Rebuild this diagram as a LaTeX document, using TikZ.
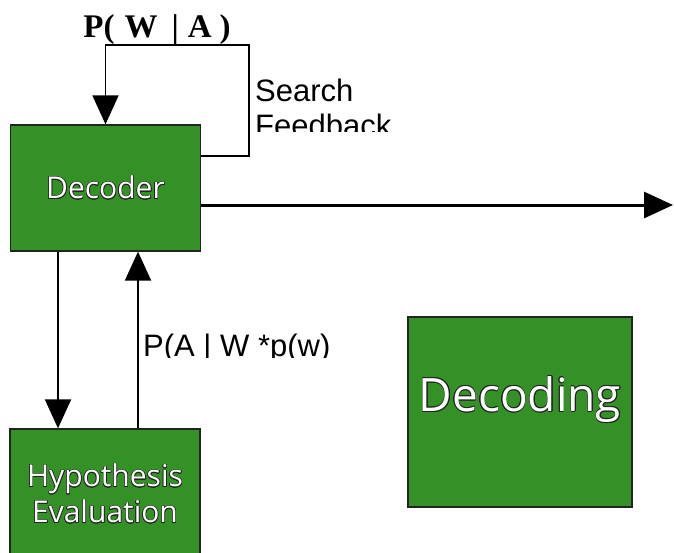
\documentclass[tikz,border=0pt]{standalone}
\usepackage{fontspec}
\setmainfont{Liberation Sans}
\newfontfamily\boxfont{Open Sans}
\newfontfamily\titlefont{Liberation Serif}
\usepackage[copies]{contour}
\contourlength{0.6pt}
\usetikzlibrary{arrows.meta,positioning}
\definecolor{boxgreen}{RGB}{52,145,38}
\definecolor{edgegray}{RGB}{35,35,35}

\tikzset{
    greenbox/.style={draw=edgegray, line width=1.3pt, fill=boxgreen, text=white,
        font=\boxfont\fontsize{30pt}{36pt}\selectfont, align=center, inner sep=0pt},
    flowline/.style={line width=2pt, -{Triangle[length=29pt,width=26pt]}},
    loopline/.style={line width=1.6pt, -{Triangle[length=29pt,width=26pt]}},
    labeltext/.style={inner sep=0pt, align=left, font=\fontsize{31pt}{35pt}\selectfont}
}

\begin{document}
\begin{tikzpicture}[x=1pt,y=-1pt]
            \useasboundingbox (0,0) rectangle (674,552);
            \clip (0,0) rectangle (674,552);
        % boxes
            \node[greenbox, minimum width=190pt, minimum height=126pt] (decoder) at (105.5,188)
                {\contour{edgegray}{Decoder}};
            \node[greenbox, minimum width=190pt, minimum height=130pt] (hypothesis) at (105,494)
                {\contour{edgegray}{Hypothesis}\\\contour{edgegray}{Evaluation}};
            \node[greenbox, minimum width=224pt, minimum height=190pt, text depth=36pt,
                  font=\boxfont\fontsize{46pt}{50pt}\selectfont] (decoding) at (520,412)
                {\contour{edgegray}{Decoding}};
        % search feedback loop
            \coordinate (loopcorner) at (249,45);
            \draw[loopline] ([yshift=-31.7pt]decoder.north east) -| (loopcorner) -| (decoder.north);
            \node[anchor=base, inner sep=0pt, font=\titlefont\bfseries\fontsize{33pt}{36pt}\selectfont]
                (posterior) at (157,37) {P(\hspace{10pt}W\hspace{14pt}|\hspace{9pt}A\hspace{8pt})};
            \begin{scope}
                \clip (250,50) rectangle (420,131.7);
                \node[labeltext, anchor=north west] (feedback) at (255,79) {Search\\Feedback};
            \end{scope}
        % decoder output
            \coordinate (output) at (673,205);
            \draw[flowline, line width=3pt] ([yshift=-17pt]decoder.east) -- (output);
        % decoder <-> hypothesis evaluation
            \draw[flowline] ([xshift=-47.5pt]decoder.south) -- ([xshift=-47pt]hypothesis.north);
            \draw[flowline] ([xshift=33pt]hypothesis.north) -- ([xshift=32.5pt]decoder.south);
            \begin{scope}
                \clip (130,300) rectangle (400,357.5);
                \node[labeltext, anchor=base west] (likelihood) at (143,356.5) {P(A | W *p(w)};
            \end{scope}
\end{tikzpicture}
\end{document}
